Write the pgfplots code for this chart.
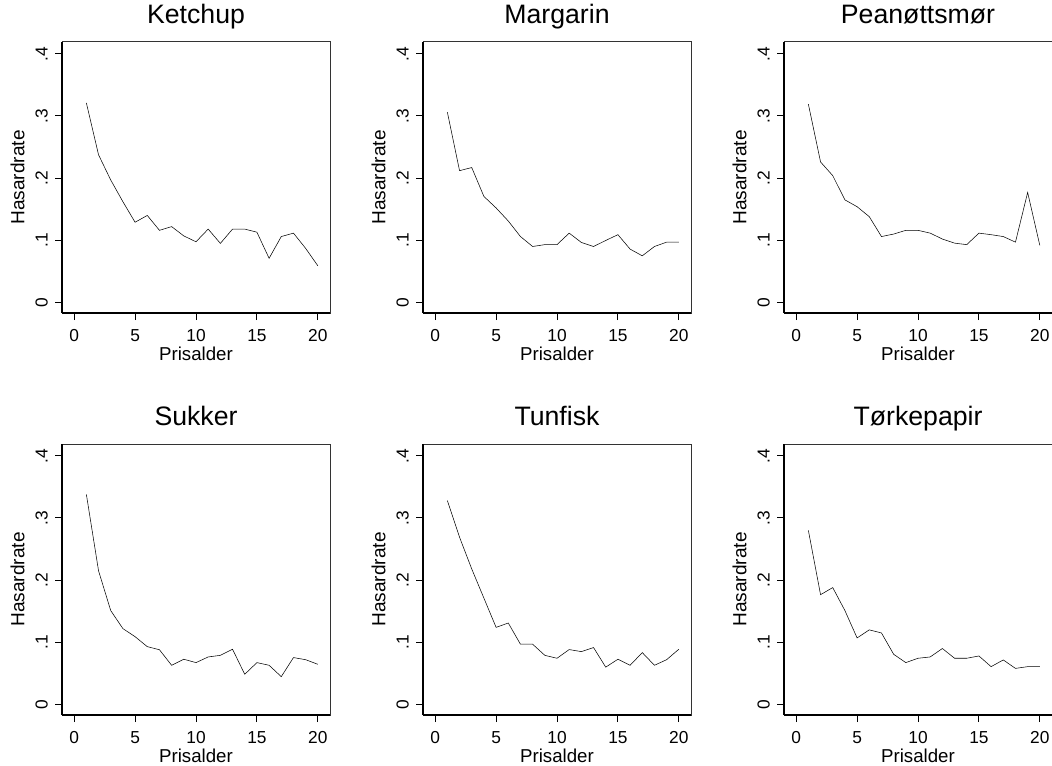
\documentclass[border=0pt]{standalone}
\usepackage{fontspec}
\setmainfont{Liberation Sans}
\usepackage{pgfplots}
\pgfplotsset{compat=1.18}
\pgfplotsset{hz/.style={
  scale only axis, width=201pt, height=203.25pt, anchor=north west,
  xmin=-1, xmax=21, ymin=-0.017, ymax=0.419,
  xtick={0,5,10,15,20}, ytick={0,0.1,0.2,0.3,0.4}, yticklabels={0,.1,.2,.3,.4},
  xtick pos=bottom, ytick pos=left, tick align=outside, major tick length=5.25pt,
  tick style={black, line width=0.75pt},
  axis line style={line width=0.75pt, black!80},
  /pgf/number format/assume math mode=true,
  tick label style={font=\fontsize{13}{16}\selectfont, black, inner sep=0pt},
  yticklabel style={rotate=90, anchor=base, yshift=5.6pt},
  xticklabel style={anchor=north, yshift=-7pt},
  xlabel=Prisalder, ylabel=Hasardrate,
  every axis x label/.style={at={(axis description cs:0.5,-0.175)}, anchor=base, inner sep=0pt, font=\fontsize{14}{17}\selectfont},
  every axis y label/.style={at={(axis description cs:-0.166,0.5)}, anchor=center, rotate=90, inner sep=0pt, font=\fontsize{14.3}{17}\selectfont},
  title style={at={(axis description cs:0.5,1.038)}, anchor=base, inner sep=0pt, font=\fontsize{20}{24}\selectfont},
  after end axis/.code={\draw[line width=1.5pt] (rel axis cs:0,0) -- (rel axis cs:1,0); \draw[line width=1.1pt] (rel axis cs:0,0) -- (rel axis cs:0,1);},
  cycle list={{black, line width=0.75pt, mark=none}},
}}
\begin{document}
\begin{tikzpicture}
\useasboundingbox (0,0) rectangle (789pt,573.75pt);
\begin{axis}[hz, at={(46.5pt,542.25pt)}, title={Ketchup}]
\addplot table {
1 0.321
2 0.2375
3 0.197
4 0.162
5 0.129
6 0.140
7 0.116
8 0.122
9 0.107
10 0.0976
11 0.118
12 0.095
13 0.118
14 0.118
15 0.113
16 0.071
17 0.106
18 0.1115
19 0.087
20 0.059
};
\end{axis}
\begin{axis}[hz, at={(317.25pt,542.25pt)}, title={Margarin}]
\addplot table {
1 0.306
2 0.212
3 0.217
4 0.1705
5 0.152
6 0.131
7 0.106
8 0.090
9 0.093
10 0.093
11 0.1115
12 0.0965
13 0.090
14 0.0997
15 0.109
16 0.0858
17 0.075
18 0.090
19 0.097
20 0.097
};
\end{axis}
\begin{axis}[hz, at={(588pt,542.25pt)}, title={Peanøttsmør}]
\addplot table {
1 0.319
2 0.226
3 0.204
4 0.165
5 0.154
6 0.138
7 0.106
8 0.110
9 0.116
10 0.116
11 0.1115
12 0.102
13 0.0954
14 0.093
15 0.1115
16 0.109
17 0.106
18 0.097
19 0.177
20 0.0917
};
\end{axis}
\begin{axis}[hz, at={(46.5pt,240.75pt)}, title={Sukker}]
\addplot table {
1 0.338
2 0.215
3 0.151
4 0.122
5 0.109
6 0.093
7 0.088
8 0.063
9 0.0727
10 0.0673
11 0.0764
12 0.079
13 0.0888
14 0.0485
15 0.0673
16 0.063
17 0.0447
18 0.0754
19 0.072
20 0.0646
};
\end{axis}
\begin{axis}[hz, at={(317.25pt,240.75pt)}, title={Tunfisk}]
\addplot table {
1 0.328
2 0.269
3 0.218
4 0.171
5 0.124
6 0.131
7 0.0969
8 0.0969
9 0.079
10 0.0743
11 0.0883
12 0.085
13 0.0915
14 0.060
15 0.0727
16 0.063
17 0.0834
18 0.063
19 0.072
20 0.0888
};
\end{axis}
\begin{axis}[hz, at={(588pt,240.75pt)}, title={Tørkepapir}]
\addplot table {
1 0.280
2 0.1766
3 0.188
4 0.151
5 0.107
6 0.120
7 0.115
8 0.0807
9 0.0673
10 0.0743
11 0.0764
12 0.090
13 0.0743
14 0.0743
15 0.078
16 0.0608
17 0.0716
18 0.058
19 0.0608
20 0.0608
};
\end{axis}
\end{tikzpicture}
\end{document}
